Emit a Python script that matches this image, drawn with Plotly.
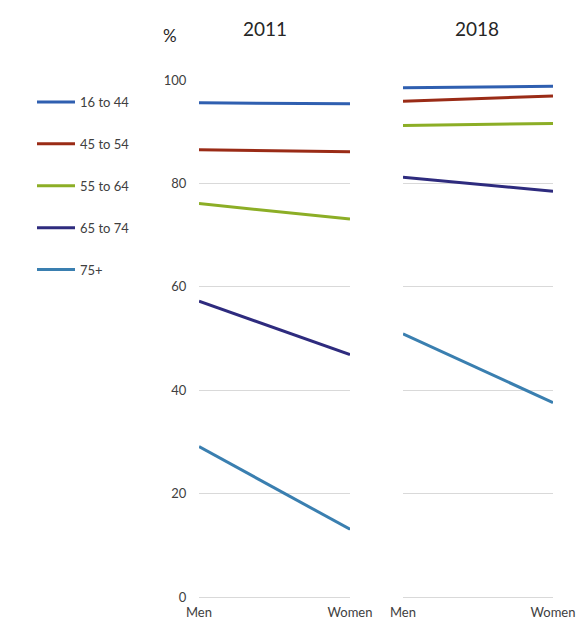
import plotly.graph_objects as go

groups = ["16 to 44", "45 to 54", "55 to 64", "65 to 74", "75+"]
sexes = ["Men", "Women"]
values_2011 = {
    "16 to 44": [95.6, 95.4],
    "45 to 54": [86.5, 86.1],
    "55 to 64": [76.1, 73.1],
    "65 to 74": [57.2, 46.9],
    "75+": [29.1, 13.1],
}
values_2018 = {
    "16 to 44": [98.5, 98.8],
    "45 to 54": [95.9, 96.9],
    "55 to 64": [91.2, 91.6],
    "65 to 74": [81.2, 78.5],
    "75+": [50.9, 37.6],
}
colors = {
    "16 to 44": "#2F5FB0",
    "45 to 54": "#9A2B16",
    "55 to 64": "#8CAE26",
    "65 to 74": "#2E2B7E",
    "75+": "#3A7FB0",
}
years = ["2011", "2018"]
yticks = [0, 20, 40, 60, 80, 100]

W, H = 581, 621
FONT = "Lato, Open Sans, Liberation Sans, sans-serif"

fig = go.Figure()
xpos = [0, 1]
for g in groups:
    fig.add_trace(go.Scatter(x=xpos, y=values_2011[g], mode="lines", name=g,
                             line=dict(color=colors[g], width=3),
                             legendgroup=g, showlegend=True,
                             xaxis="x", yaxis="y"))
    fig.add_trace(go.Scatter(x=xpos, y=values_2018[g], mode="lines", name=g,
                             line=dict(color=colors[g], width=3),
                             legendgroup=g, showlegend=False,
                             xaxis="x2", yaxis="y2"))

grid = "#D9D9D9"
tickfont = dict(family=FONT, size=13, color="#404040")
xcommon = dict(range=[0, 1], tickvals=xpos, ticktext=sexes, showgrid=False,
               zeroline=False, showline=False, tickfont=tickfont, fixedrange=True,
               ticklabelstandoff=6, automargin=False)
ycommon = dict(range=[0, 100], tickvals=yticks, showgrid=True, gridcolor=grid,
               gridwidth=1, zeroline=True, zerolinecolor=grid, zerolinewidth=1,
               showline=False, tickfont=tickfont, fixedrange=True, automargin=False)

top, bottom = 80, 597
fig.update_layout(
    width=W, height=H,
    margin=dict(l=0, r=0, t=top, b=H - bottom, autoexpand=False),
    paper_bgcolor="white", plot_bgcolor="white",
    xaxis=dict(domain=[199 / W, 350 / W], anchor="y", **xcommon),
    xaxis2=dict(domain=[403 / W, 553 / W], anchor="y2", **xcommon),
    yaxis=dict(anchor="x", showticklabels=True, ticks="outside", ticklen=9,
               tickcolor="rgba(0,0,0,0)", **ycommon),
    yaxis2=dict(anchor="x2", showticklabels=False, **ycommon),
    legend=dict(x=32 / W, y=1 - 7 / 517, xanchor="left", yanchor="top",
                font=dict(family=FONT, size=13, color="#404040"),
                tracegroupgap=22, itemwidth=38, bgcolor="rgba(0,0,0,0)"),
    showlegend=True,
)

titlefont = dict(family=FONT, size=19, color="#262626")
fig.add_annotation(text=years[0], xref="paper", yref="paper", x=265 / W, y=1,
                   yshift=52, xanchor="center", yanchor="middle", showarrow=False, font=titlefont)
fig.add_annotation(text=years[1], xref="paper", yref="paper", x=477 / W, y=1,
                   yshift=52, xanchor="center", yanchor="middle", showarrow=False, font=titlefont)
fig.add_annotation(text="%", xref="paper", yref="paper", x=170 / W, y=1,
                   yshift=45, xanchor="center", yanchor="middle", showarrow=False,
                   font=dict(family=FONT, size=17, color="#262626"))

fig.write_html("out.html",
               config={"displayModeBar": False},
               post_script="document.body.style.margin='0px';document.body.style.overflow='hidden';")
